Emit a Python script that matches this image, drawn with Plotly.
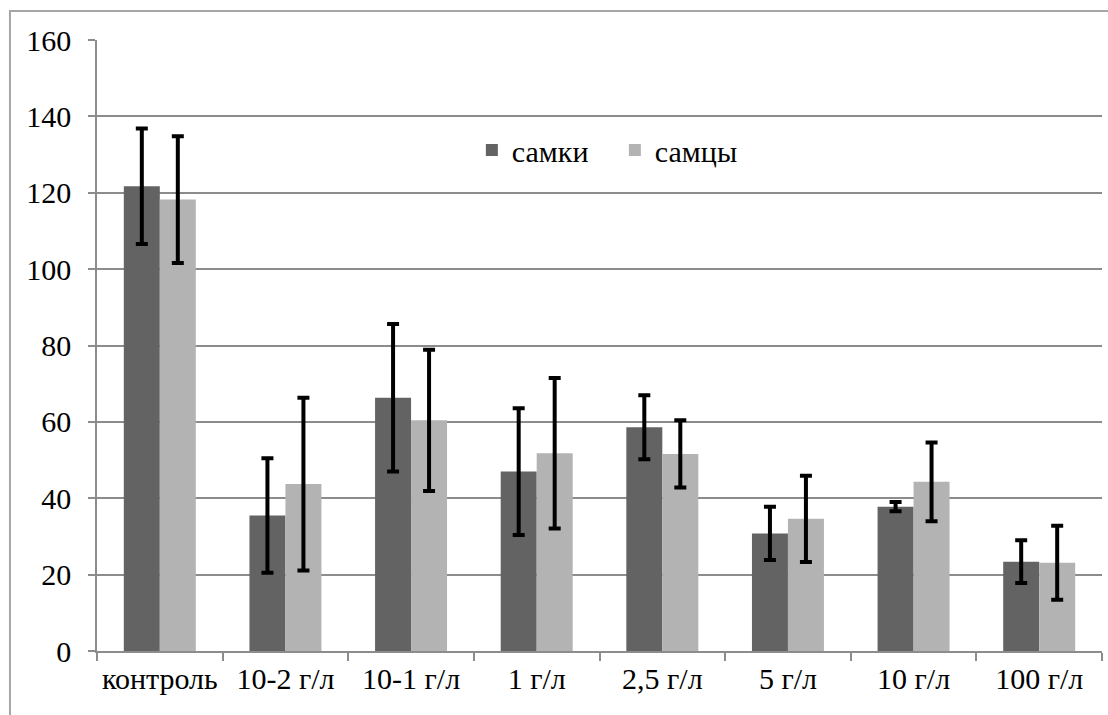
import plotly.graph_objects as go

categories = ["контроль", "10-2 г/л", "10-1 г/л", "1 г/л", "2,5 г/л", "5 г/л", "10 г/л", "100 г/л"]
females = [121.7, 35.5, 66.3, 47.0, 58.6, 30.8, 37.8, 23.4]
females_err = [15.1, 15.0, 19.3, 16.6, 8.4, 7.0, 1.2, 5.6]
males = [118.2, 43.7, 60.4, 51.8, 51.6, 34.6, 44.3, 23.1]
males_err = [16.6, 22.6, 18.5, 19.7, 8.8, 11.3, 10.3, 9.7]
y_ticks = [0, 20, 40, 60, 80, 100, 120, 140, 160]

FONT = "Liberation Serif, Times New Roman, serif"
SIZE = 30
GRID = "#8c8c8c"

fig = go.Figure()
fig.add_trace(go.Bar(
    x=categories, y=females, name="самки",
    marker=dict(color="#636363", line=dict(width=0)),
    error_y=dict(type="data", array=females_err, visible=True,
                 color="black", thickness=4, width=6),
))
fig.add_trace(go.Bar(
    x=categories, y=males, name="самцы",
    marker=dict(color="#b3b3b3", line=dict(width=0)),
    error_y=dict(type="data", array=males_err, visible=True,
                 color="black", thickness=4, width=6),
))

fig.update_layout(
    width=1108, height=715,
    margin=dict(l=97, r=6, t=40, b=64, autoexpand=False),
    paper_bgcolor="white", plot_bgcolor="white",
    font=dict(family=FONT, size=SIZE, color="black"),
    barmode="group", bargap=0.427, bargroupgap=0,
    showlegend=True,
    legend=dict(orientation="h", x=0.373, y=0.82, xanchor="left", yanchor="middle",
                bgcolor="rgba(0,0,0,0)", font=dict(family=FONT, size=SIZE, color="black"),
                itemwidth=30, entrywidth=98, entrywidthmode="pixels", tracegroupgap=0),
    xaxis=dict(
        type="category", showline=True, linecolor=GRID, linewidth=1.5,
        ticks="outside", ticklen=8, tickcolor=GRID, tickwidth=1.5,
        tickson="boundaries", showgrid=False, tickangle=0, automargin=False,
        tickfont=dict(family=FONT, size=SIZE, color="black"),
    ),
    yaxis=dict(
        range=[0, 160], tickvals=y_ticks, showline=True, linecolor=GRID, linewidth=1.5,
        ticks="outside", ticklen=7, tickcolor=GRID, tickwidth=1.5, automargin=False,
        showgrid=True, gridcolor=GRID, gridwidth=1.5, zeroline=False,
        tickfont=dict(family=FONT, size=SIZE, color="black"), ticklabelstandoff=11,
    ),
    shapes=[dict(type="rect", xref="paper", yref="paper",
                 x0=-0.0866, x1=1.2, y0=-0.3, y1=1.0475,
                 line=dict(color="#a6a6a6", width=2), fillcolor="rgba(0,0,0,0)", layer="below")],
)

fig.write_html("out.html")
